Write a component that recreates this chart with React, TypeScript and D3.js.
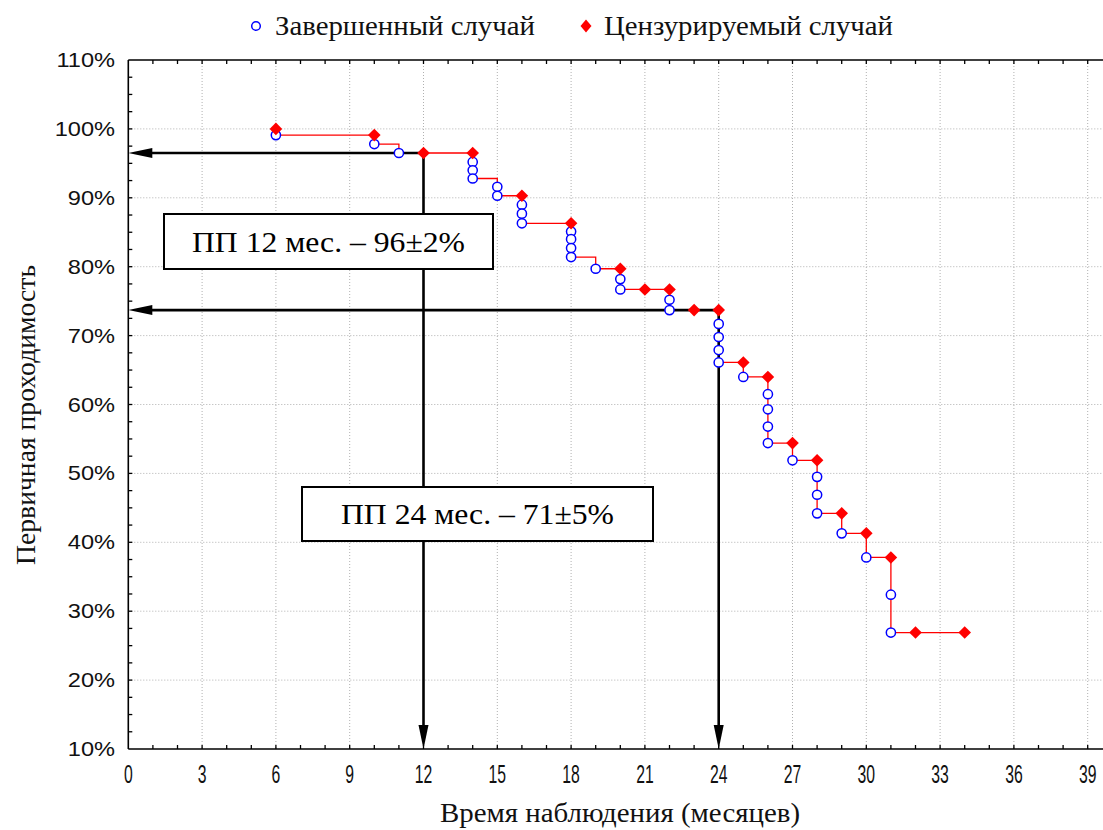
import React from "react";
import * as d3 from "d3";

// ---- Data ----
const legendLabels = ["Завершенный случай", "Цензурируемый случай"];
const xTickValues = [0, 3, 6, 9, 12, 15, 18, 21, 24, 27, 30, 33, 36, 39];
const yTickValues = [10, 20, 30, 40, 50, 60, 70, 80, 90, 100, 110];
const xTitle = "Время наблюдения (месяцев)";
const yTitle = "Первичная проходимость";

// completed cases (events)
const eventMonths = [6, 10, 11, 14, 14, 14, 15, 15, 16, 16, 16, 18, 18, 18, 18, 19, 20, 20, 22, 22, 24, 24, 24, 24, 25, 26, 26, 26, 26, 27, 28, 28, 28, 29, 30, 31, 31];
const eventSurvival = [99.1, 97.8, 96.5, 95.2, 94.0, 92.8, 91.6, 90.3, 89.0, 87.7, 86.3, 85.1, 84.0, 82.7, 81.4, 79.7, 78.2, 76.7, 75.2, 73.7, 71.7, 69.8, 67.9, 66.1, 64.0, 61.5, 59.3, 56.8, 54.4, 51.9, 49.5, 46.9, 44.2, 41.3, 37.8, 32.4, 26.9];

// censored cases
const censoredMonths = [6, 10, 12, 14, 16, 18, 20, 21, 22, 23, 24, 25, 26, 27, 28, 29, 30, 31, 32, 34];
const censoredSurvival = [100, 99.1, 96.5, 96.5, 90.3, 86.3, 79.7, 76.7, 76.7, 73.7, 73.7, 66.1, 64.0, 54.4, 51.9, 44.2, 41.3, 37.8, 26.9, 26.9];

const curveStart = [6, 100];
const curveEndMonth = 34;

// annotations
const markMonths = [12, 24];
const markSurvival = [96.5, 73.7];
const boxLabels = ["ПП 12 мес. – 96±2%", "ПП 24 мес. – 71±5%"];

const SERIF = "'Liberation Serif', 'Times New Roman', serif";
const SANS = "'Liberation Sans', Arial, sans-serif";

export default function App() {
  const W = 1103, H = 830;
  const x = d3.scaleLinear().domain([0, 40]).range([128.3, 1112.3]);
  const y = d3.scaleLinear().domain([10, 110]).range([749, 60]);
  const x0 = x(0), yTop = y(110), yBot = y(10), xRight = x(40);

  const pts: [number, number][] = [[curveStart[0], curveStart[1]]];
  eventMonths.forEach((m, i) => pts.push([m, eventSurvival[i]]));
  pts.push([curveEndMonth, eventSurvival[eventSurvival.length - 1]]);
  const line = d3.line<[number, number]>().x(d => x(d[0])).y(d => y(d[1])).curve(d3.curveStepAfter);

  const minorX = d3.range(1, 40);
  const minorY = d3.range(12.5, 110, 2.5);
  const gridX = xTickValues.filter(v => v > 0);
  const gridY = yTickValues.filter(v => v > 10 && v < 110);

  const diamond = (cx: number, cy: number, a = 6, b = 6) => `M${cx},${cy - b}L${cx + a},${cy}L${cx},${cy + b}L${cx - a},${cy}Z`;

  const arrowLen = 24, arrowHalf = 5;
  const boxes = [
    { x: 164, y: 214, w: 329, h: 55 },
    { x: 302, y: 487, w: 351, h: 54 },
  ];

  return (
    <svg width={W} height={H} style={{ position: "absolute", left: 0, top: 0, background: "#fff" }}>
      <rect x={0} y={0} width={W} height={H} fill="#fff" />
      {/* grid */}
      <g stroke="#b0b0b0" strokeWidth={1} strokeDasharray="1,2">
        {gridX.map(v => <line key={"gx" + v} x1={x(v)} x2={x(v)} y1={yTop} y2={yBot} />)}
        {gridY.map(v => <line key={"gy" + v} x1={x0} x2={xRight} y1={y(v)} y2={y(v)} />)}
      </g>
      {/* frame */}
      <g stroke="#000" strokeWidth={1.6} fill="none">
        <line x1={x0} x2={xRight} y1={yTop} y2={yTop} />
        <line x1={x0} x2={xRight} y1={yBot} y2={yBot} />
        <line x1={x0} x2={x0} y1={yTop} y2={yBot} />
      </g>
      {/* ticks */}
      <g stroke="#000" strokeWidth={1.3}>
        {minorX.map(v => <line key={"tb" + v} x1={x(v)} x2={x(v)} y1={yBot} y2={yBot - 4} />)}
        {minorX.map(v => <line key={"tt" + v} x1={x(v)} x2={x(v)} y1={yTop} y2={yTop + 4} />)}
        {minorY.map(v => <line key={"tl" + v} x1={x0} x2={x0 + 4} y1={y(v)} y2={y(v)} />)}
      </g>
      {/* tick labels */}
      <g fontFamily={SANS} fill="#111">
        {yTickValues.map(v => (
          <text key={"yl" + v} transform={`translate(115,${y(v) + 7}) scale(1.18,1)`} textAnchor="end" fontSize={20}>{v + "%"}</text>
        ))}
        {xTickValues.map(v => (
          <text key={"xl" + v} transform={`translate(${x(v)},${783}) scale(0.75,1.2)`} textAnchor="middle" fontSize={21}>{v}</text>
        ))}
      </g>
      {/* axis titles */}
      <text x={620} y={822} textAnchor="middle" fontFamily={SERIF} fontSize={27} textLength={360} lengthAdjust="spacingAndGlyphs" fill="#111">{xTitle}</text>
      <text transform={`translate(35,415) rotate(-90)`} textAnchor="middle" fontFamily={SERIF} fontSize={27} textLength={300} lengthAdjust="spacingAndGlyphs" fill="#111">{yTitle}</text>
      {/* survival curve */}
      <path d={line(pts) || ""} fill="none" stroke="#ff0000" strokeWidth={1.3} />
      {/* annotation arrows */}
      <g stroke="#000" strokeWidth={2.6} fill="none">
        {markMonths.map((m, i) => (
          <g key={"ar" + i}>
            <line x1={x(m) + 1} x2={x0 + arrowLen - 2} y1={y(markSurvival[i])} y2={y(markSurvival[i])} />
            <line x1={x(m)} x2={x(m)} y1={y(markSurvival[i]) - 1} y2={yBot - arrowLen + 2} />
          </g>
        ))}
      </g>
      <g fill="#000">
        {markMonths.map((m, i) => (
          <g key={"ah" + i}>
            <path d={`M${x0},${y(markSurvival[i])}L${x0 + arrowLen},${y(markSurvival[i]) - arrowHalf}L${x0 + arrowLen},${y(markSurvival[i]) + arrowHalf}Z`} />
            <path d={`M${x(m)},${yBot}L${x(m) - arrowHalf},${yBot - arrowLen}L${x(m) + arrowHalf},${yBot - arrowLen}Z`} />
          </g>
        ))}
      </g>
      {/* markers */}
      <g fill="#fff" stroke="#0000ff" strokeWidth={1.5}>
        {eventMonths.map((m, i) => <circle key={"ev" + i} cx={x(m)} cy={y(eventSurvival[i])} r={4.6} />)}
      </g>
      <g fill="#ff0000">
        {censoredMonths.map((m, i) => <path key={"cs" + i} d={diamond(x(m), y(censoredSurvival[i]), 6.3, 6.3)} />)}
      </g>
      {/* boxes */}
      {boxes.map((b, i) => (
        <g key={"bx" + i}>
          <rect x={b.x} y={b.y} width={b.w} height={b.h} fill="#fff" stroke="#000" strokeWidth={2} />
          <text x={b.x + b.w / 2} y={b.y + b.h / 2 + 10} textAnchor="middle" fontFamily={SERIF} fontSize={30} textLength={273} lengthAdjust="spacingAndGlyphs" fill="#000">{boxLabels[i]}</text>
        </g>
      ))}
      {/* legend */}
      <circle cx={256} cy={26} r={4.3} fill="#fff" stroke="#0000ff" strokeWidth={1.5} />
      <text x={275} y={35} fontFamily={SERIF} fontSize={28} textLength={260} lengthAdjust="spacingAndGlyphs" fill="#111">{legendLabels[0]}</text>
      <path d={diamond(586, 26, 5.5, 6.5)} fill="#ff0000" />
      <text x={604} y={35} fontFamily={SERIF} fontSize={28} textLength={289} lengthAdjust="spacingAndGlyphs" fill="#111">{legendLabels[1]}</text>
    </svg>
  );
}
